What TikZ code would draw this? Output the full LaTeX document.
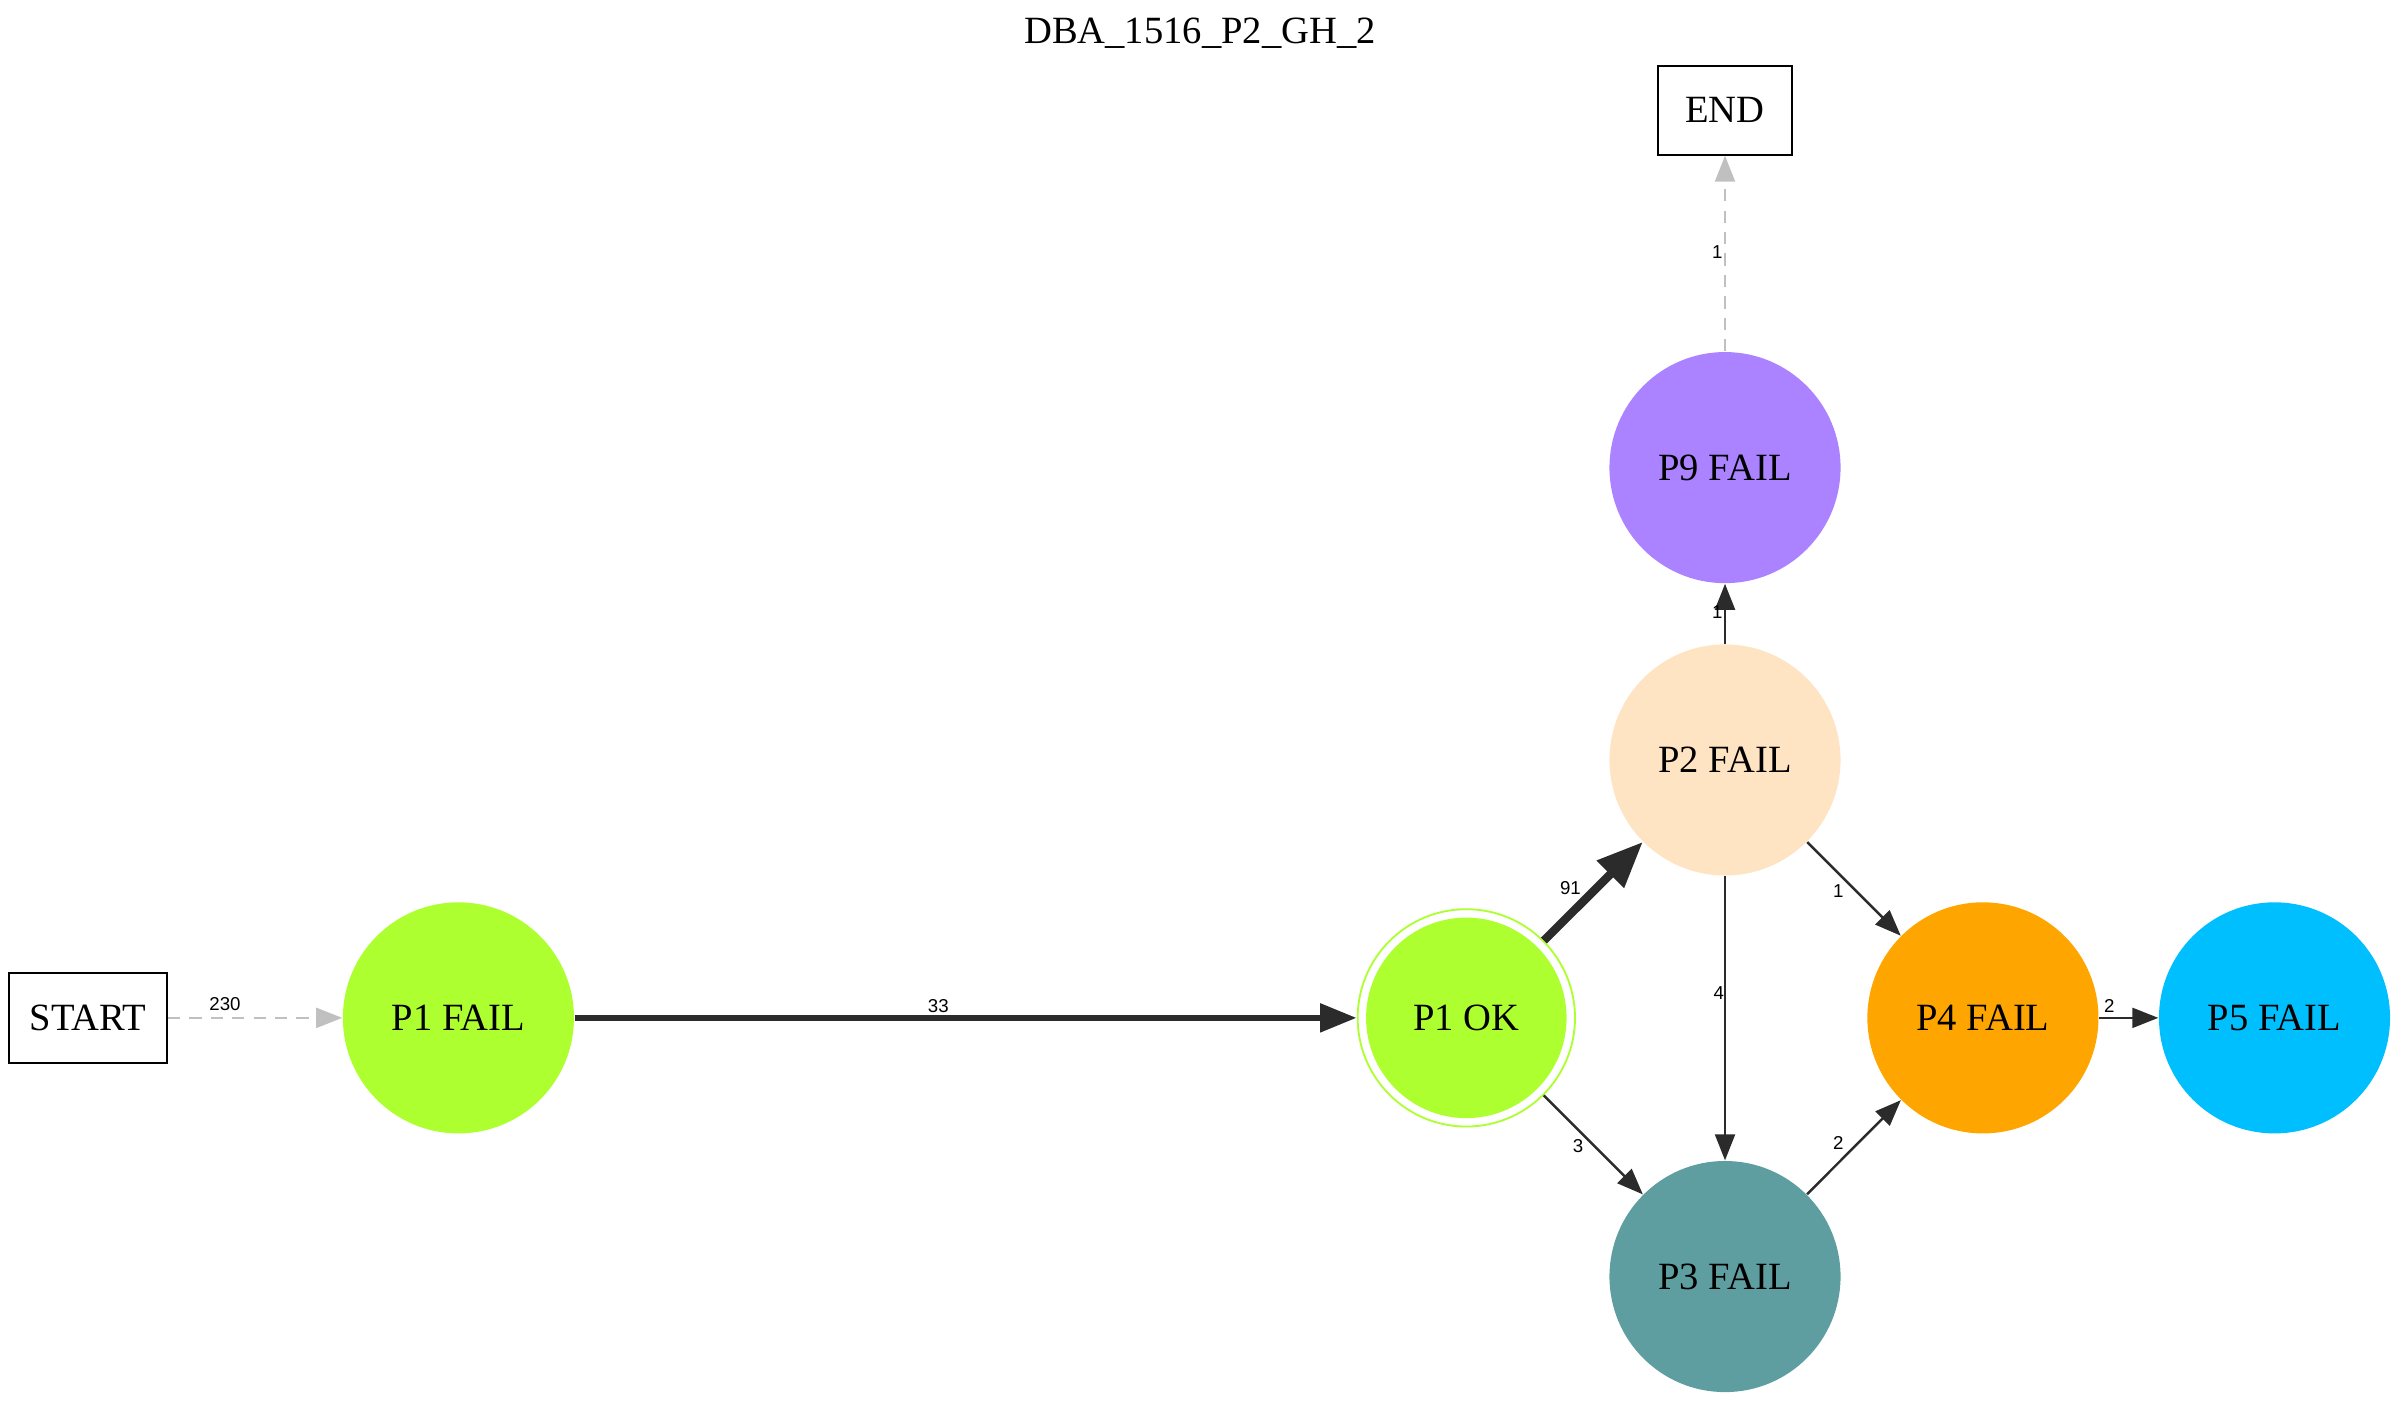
\documentclass[tikz,border=0pt]{standalone}
\usepackage{fontspec}
\setmainfont{Liberation Serif}
\newfontfamily\lblfont{Liberation Sans}
\usetikzlibrary{arrows.meta}
\definecolor{gy}{HTML}{ADFF2F}
\definecolor{bisq}{HTML}{FFE4C4}
\definecolor{mpurp}{HTML}{AB82FF}
\definecolor{cadet}{HTML}{5F9EA0}
\definecolor{orng}{HTML}{FFA500}
\definecolor{dsky}{HTML}{00BFFF}
\definecolor{edgec}{HTML}{2B2B2B}
\definecolor{silv}{HTML}{C0C0C0}
\tikzset{
  statenode/.style={circle,inner sep=0pt,minimum size=75.5pt,font=\fontsize{12.6}{14}\selectfont},
  termbox/.style={draw=black,line width=0.7pt,rectangle,inner sep=0pt,font=\fontsize{12.6}{14}\selectfont},
  elabel/.style={inner sep=0pt,font=\lblfont\fontsize{6.1}{7}\selectfont},
  thinedge/.style={draw=edgec,line width=0.8pt,-{Triangle[length=8.5pt,width=6.5pt]}},
  grayedge/.style={draw=silv,line width=0.8pt,dash pattern=on 4pt off 3pt,-{Triangle[length=8.5pt,width=6.5pt]}},
}
\begin{document}
\begin{tikzpicture}[x=0.5pt,y=-0.5pt]
\useasboundingbox (0,0) rectangle (1568,916);
\node[font=\fontsize{12.6}{14}\selectfont] (title) at (784,22) {DBA\_1516\_P2\_GH\_2};
\node[termbox,minimum width=51.5pt,minimum height=29.5pt] (start) at (57.5,665) {START};
\node[termbox,minimum width=44pt,minimum height=29pt] (end) at (1127,72) {END};
\node[statenode,fill=gy] (p1fail) at (299.5,665) {P1 FAIL};
\fill[gy] (958,665) circle[radius=32.75pt];
\node[circle,inner sep=0pt,minimum size=71pt,draw=gy,line width=0.6pt,font=\fontsize{12.6}{14}\selectfont] (p1ok) at (958,665) {P1 OK};
\node[statenode,fill=bisq] (p2fail) at (1127,496.5) {P2 FAIL};
\node[statenode,fill=mpurp] (p9fail) at (1127,305.5) {P9 FAIL};
\node[statenode,fill=cadet] (p3fail) at (1127,834) {P3 FAIL};
\node[statenode,fill=orng] (p4fail) at (1295.5,665) {P4 FAIL};
\node[statenode,fill=dsky] (p5fail) at (1486,665) {P5 FAIL};

\draw[grayedge] (start) -- (p1fail);
\draw[draw=edgec,line width=2.2pt,-{Triangle[length=12pt,width=9pt]}] (p1fail) -- (p1ok);
\draw[draw=edgec,line width=2.75pt,-{Triangle[length=15pt,width=12pt]}] (p1ok) -- (p2fail);
\draw[thinedge] (p1ok) -- (p3fail);
\draw[thinedge] (p2fail) -- (p3fail);
\draw[thinedge] (p2fail) -- (p4fail);
\draw[thinedge] (p3fail) -- (p4fail);
\draw[thinedge] (p2fail) -- (p9fail);
\draw[grayedge] (p9fail) -- (end);
\draw[thinedge] (p4fail) -- (p5fail);

\node[elabel] (l230) at (147,656) {230};
\node[elabel] (l33) at (613,657) {33};
\node[elabel] (l91) at (1026,580) {91};
\node[elabel] (l3) at (1031,749) {3};
\node[elabel] (l4) at (1123,649) {4};
\node[elabel] (l1a) at (1201,582) {1};
\node[elabel] (l2a) at (1201,747) {2};
\node[elabel] (l1b) at (1122,400) {1};
\node[elabel] (l1c) at (1122,165) {1};
\node[elabel] (l2b) at (1378,657) {2};
\end{tikzpicture}
\end{document}
